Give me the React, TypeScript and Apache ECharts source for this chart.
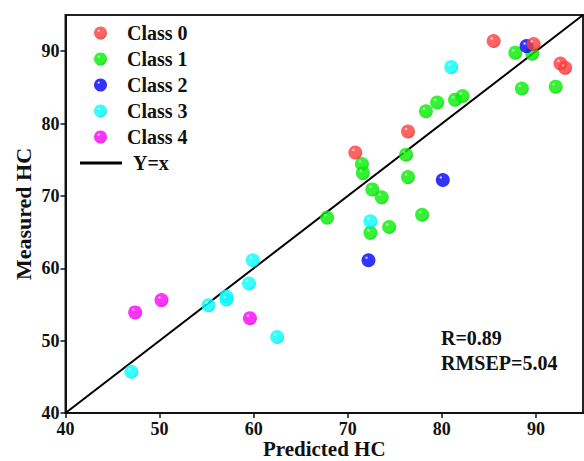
import React, { useEffect, useRef } from "react";
import * as echarts from "echarts";

const class0: number[][] = [[85.5, 91.4], [89.75, 91.0], [92.6, 88.3], [93.1, 87.7], [76.4, 78.9], [70.8, 76.0]];
const class1: number[][] = [
  [87.8, 89.8], [89.6, 89.65], [88.5, 84.85], [92.1, 85.1], [78.3, 81.7], [79.5, 82.9],
  [81.4, 83.3], [82.2, 83.8], [76.2, 75.7], [71.5, 74.4], [71.6, 73.15], [76.4, 72.6],
  [72.6, 70.9], [73.6, 69.8], [67.8, 67.0], [72.4, 64.9], [74.4, 65.7], [77.9, 67.4],
];
const class2: number[][] = [[89.0, 90.7], [80.1, 72.2], [72.2, 61.1]];
const class3: number[][] = [
  [81.0, 87.8], [72.4, 66.5], [59.9, 61.1], [59.5, 57.9], [55.2, 54.9],
  [57.1, 56.1], [57.1, 55.7], [62.5, 50.5], [47.0, 45.7],
];
const class4: number[][] = [[50.2, 55.6], [47.4, 53.9], [59.6, 53.1]];
const identityLine: number[][] = [[40, 40], [95, 95]];

const classNames = ["Class 0", "Class 1", "Class 2", "Class 3", "Class 4"];
const classData = [class0, class1, class2, class3, class4];
const classColors = [
  ["#ff3c3c", "#e01e1e"],
  ["#00f000", "#00c400"],
  ["#0000ff", "#0000c4"],
  ["#00ffff", "#00d4e4"],
  ["#ff00ff", "#cc00cc"],
];

const stats = ["R=0.89", "RMSEP=5.04"];

const FONT = "'Liberation Serif', 'Times New Roman', serif";

function sphere(base: string, edge: string) {
  return new echarts.graphic.RadialGradient(0.36, 0.32, 0.7, [
    { offset: 0, color: "#ffffff" },
    { offset: 0.18, color: base },
    { offset: 0.75, color: base },
    { offset: 1, color: edge },
  ]);
}

export default function App() {
  const ref = useRef<HTMLDivElement>(null);
  useEffect(() => {
    if (!ref.current) return;
    const chart = echarts.init(ref.current, null, { renderer: "svg" });
    const scatterSeries = classNames.map((name, i) => ({
      name,
      type: "scatter",
      data: classData[i],
      symbol: "circle",
      symbolSize: 14,
      z: i === 0 ? 4 : 3,
      itemStyle: { color: sphere(classColors[i][0], classColors[i][1]) },
    }));
    const textStyle = {
      fontFamily: FONT,
      fontWeight: "bold",
      fontSize: 20,
      color: "#111",
    };
    chart.setOption({
      animation: false,
      backgroundColor: "#ffffff",
      grid: {
        left: 65.5,
        top: 15,
        right: 1,
        bottom: 48,
        containLabel: false,
        outerBoundsMode: "none",
        show: true,
        borderColor: "#222",
        borderWidth: 2,
        backgroundColor: "transparent",
      },
      legend: [
        {
          data: classNames,
          orient: "vertical",
          left: 89,
          top: 18,
          itemWidth: 13,
          itemHeight: 13,
          itemGap: 6,
          icon: "circle",
          textStyle: { ...textStyle, padding: [0, 0, 0, 15], lineHeight: 20 },
        },
        {
          data: [{ name: "Y=x", icon: "rect" }],
          orient: "vertical",
          left: 75,
          top: 148,
          itemWidth: 42,
          itemHeight: 3,
          textStyle: { ...textStyle, padding: [0, 0, 0, 6], lineHeight: 20 },
        },
      ],
      xAxis: {
        type: "value",
        min: 40,
        max: 95,
        interval: 10,
        name: "Predicted HC",
        nameLocation: "middle",
        nameGap: 25,
        nameMoveOverlap: false,
        nameTextStyle: { ...textStyle, fontSize: 21, lineHeight: 21 },
        axisLine: { show: true, lineStyle: { color: "#111", width: 2 } },
        axisTick: { show: true, length: 5, lineStyle: { color: "#111", width: 1.5 } },
        axisLabel: { ...textStyle, fontSize: 18, lineHeight: 18, margin: 7, showMaxLabel: false },
        splitLine: { show: false },
      },
      yAxis: {
        type: "value",
        min: 40,
        max: 95,
        interval: 10,
        name: "Measured HC",
        nameLocation: "middle",
        nameGap: 31,
        nameMoveOverlap: false,
        nameRotate: 90,
        nameTextStyle: { ...textStyle, fontSize: 22 },
        axisLine: { show: true, lineStyle: { color: "#111", width: 2 } },
        axisTick: { show: true, length: 5, lineStyle: { color: "#111", width: 1.5 } },
        axisLabel: { ...textStyle, fontSize: 18, margin: 6, showMaxLabel: false },
        splitLine: { show: false },
      },
      graphic: [
        {
          type: "text",
          left: 441,
          top: 325,
          style: {
            text: stats.join("\n"),
            font: `bold 20px ${FONT}`,
            fill: "#111",
            lineHeight: 25,
          },
        },
      ],
      series: [
        {
          name: "Y=x",
          type: "line",
          data: identityLine,
          symbol: "none",
          z: 1,
          lineStyle: { color: "#000", width: 2 },
          itemStyle: { color: "#000" },
        },
        ...scatterSeries,
      ],
    });
    return () => chart.dispose();
  }, []);
  return (
    <div
      ref={ref}
      style={{ position: "fixed", left: 0, top: 0, width: 584, height: 461 }}
    />
  );
}
